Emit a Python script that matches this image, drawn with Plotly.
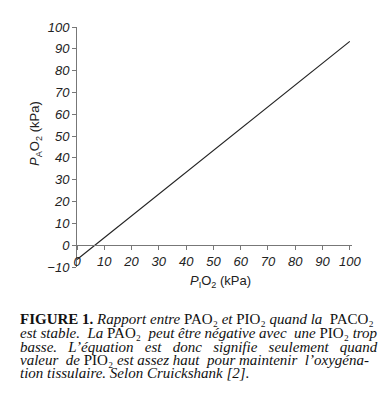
import plotly.graph_objects as go

# data
pio2 = [0, 100]
pao2 = [-6.6, 93.4]
x_ticks = [0, 10, 20, 30, 40, 50, 60, 70, 80, 90, 100]
y_ticks = [-10, 0, 10, 20, 30, 40, 50, 60, 70, 80, 90, 100]

caption_lines = [
    "<b>FIGURE 1.</b> <i>Rapport entre</i> PAO₂ <i>et</i> PIO₂ <i>quand la</i>  PACO₂",
    "<i>est stable. La</i> PAO₂ <i>peut être négative avec une</i> PIO₂ <i>trop</i>",
    "<i>basse. L’équation est donc signifie seulement quand le</i>",
    "<i>valeur de</i> PIO₂ <i>est assez haut pour maintenir l’oxygéna-</i>",
    "<i>tion tissulaire. Selon Cruickshank [2].</i>",
]
# extra non-breaking spaces per word gap (for justification)
extra_gaps = [
    [0, 0, 0, 0, 0, 0, 0, 0],
    [0, 1, 0, 1, 0, 0, 0, 1, 0],
    [2, 2, 2, 2, 2, 2, 1],
    [1, 0, 0, 0, 0, 1, 0, 1],
    [],
]

OFF = 8  # page body margin
W, H = 388 - OFF, 393 - OFF
PL, PR, PT, PB = 77, 352, 20, 267  # plot area in screen pixels
ml, mr, mt, mb = PL - OFF, OFF + W - PR, PT - OFF, OFF + H - PB


def px(sx):
    return (sx - PL) / (PR - PL)


def py(sy):
    return (PB - sy) / (PB - PT)


def justify(text, gaps):
    parts = text.split(" ")
    out = parts[0]
    gi = 0
    for p in parts[1:]:
        n = gaps[gi] if gi < len(gaps) else 0
        out += " " + "\u00a0" * n + p
        if p != "":
            gi += 1
    return out


fig = go.Figure()
fig.add_trace(go.Scatter(x=pio2, y=pao2, mode="lines",
                         line=dict(color="#222222", width=1.2),
                         showlegend=False, hoverinfo="skip", cliponaxis=False))

axis_font = dict(family="Liberation Sans, Arial, sans-serif", size=13, color="#222222")
fig.update_layout(
    width=W, height=H,
    margin=dict(l=ml, r=mr, t=mt, b=mb),
    paper_bgcolor="white", plot_bgcolor="white",
    xaxis=dict(range=[0, 100.8], tickvals=x_ticks,
               ticktext=[f"<i>{v}</i>" for v in x_ticks],
               ticks="outside", ticklen=4,
               tickcolor="#777777", showline=True, linecolor="#777777", linewidth=1,
               showgrid=False, zeroline=False, tickfont=axis_font,
               anchor="free", position=10 / 110.0),
    yaxis=dict(range=[-10, 100], tickvals=y_ticks,
               ticktext=[f"<i>{'−' + str(-v) if v < 0 else v}</i>" for v in y_ticks],
               ticks="outside", ticklen=4,
               tickcolor="#777777", showline=True, linecolor="#777777", linewidth=1,
               showgrid=False, zeroline=False, tickfont=axis_font),
)

title_font = dict(family="Liberation Sans, Arial, sans-serif", size=13, color="#222222")
fig.add_annotation(text="<i>P</i><sub>A</sub>O<sub>2</sub> (kPa)", xref="paper", yref="paper",
                   x=px(36), y=py(130),
                   textangle=-90, showarrow=False, font=title_font, xanchor="center", yanchor="middle")
fig.add_annotation(text="<i>P</i><sub>I</sub>O<sub>2</sub> (kPa)", xref="paper", yref="paper",
                   x=px(220), y=py(282),
                   showarrow=False, font=title_font, xanchor="center", yanchor="middle")

cap_font = dict(family="Liberation Serif, Times New Roman, serif", size=15, color="#111111")
cap_y = [321, 335, 349, 363, 376]
for line, gaps, yy in zip(caption_lines, extra_gaps, cap_y):
    fig.add_annotation(text=justify(line, gaps), xref="paper", yref="paper",
                       x=px(18), y=py(yy),
                       showarrow=False, font=cap_font, xanchor="left", yanchor="middle")

fig.write_html("out.html")
